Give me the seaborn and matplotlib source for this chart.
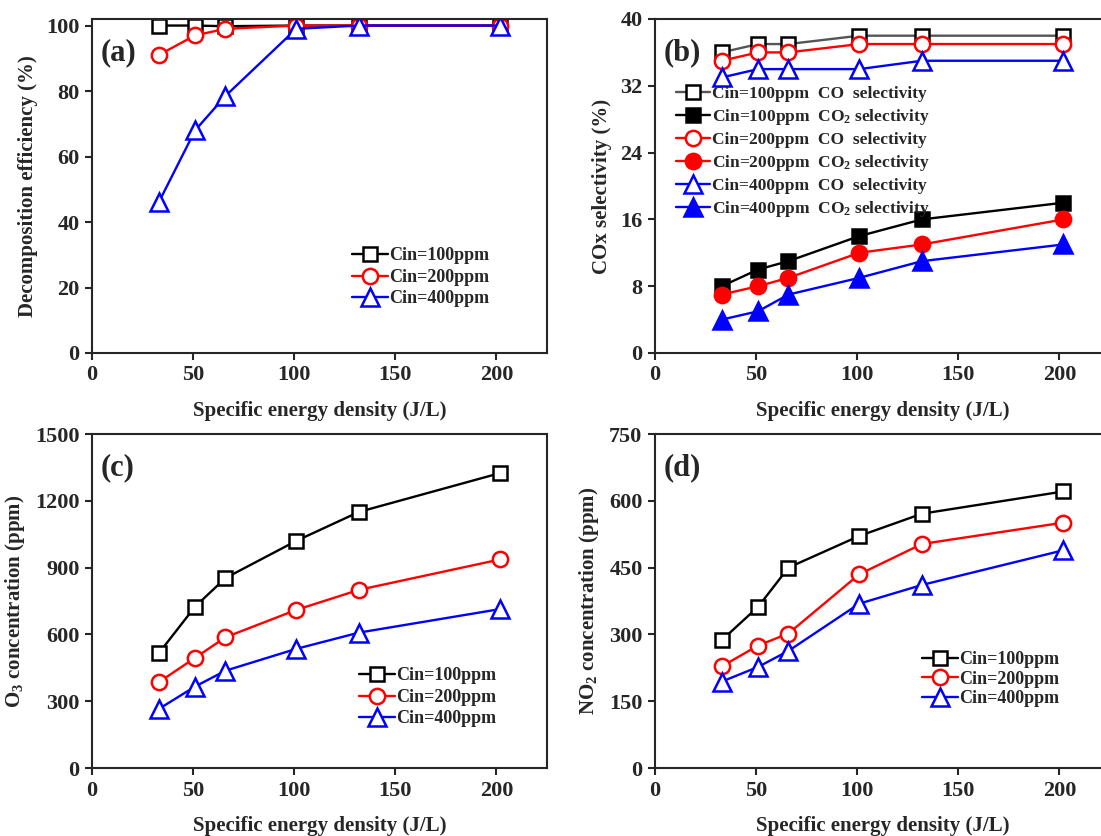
import numpy as np
import pandas as pd
import matplotlib
matplotlib.use("Agg")
import matplotlib.pyplot as plt
import seaborn as sns

# данные
sed = [33, 51, 66, 101, 132, 202]
cin_labels = ['Cin=100ppm', 'Cin=200ppm', 'Cin=400ppm']

eff_100 = [100, 100, 99.8, 100, 100, 100]
eff_200 = [91, 97, 99, 100, 100, 100]
eff_400 = [46, 68, 78.5, 99, 100, 100]

co_100 = [36, 37, 37, 38, 38, 38]
co_200 = [35, 36, 36, 37, 37, 37]
co_400 = [33, 34, 34, 34, 35, 35]
co2_100 = [8, 10, 11, 14, 16, 18]
co2_200 = [7, 8, 9, 12, 13, 16]
co2_400 = [4, 5, 7, 9, 11, 13]

o3_100 = [515, 725, 853, 1020, 1150, 1325]
o3_200 = [385, 495, 587, 710, 800, 937]
o3_400 = [265, 366, 437, 535, 608, 714]

no2_100 = [287, 362, 450, 521, 571, 621]
no2_200 = [228, 275, 302, 435, 503, 551]
no2_400 = [194, 227, 263, 369, 411, 489]

sns.set_style('ticks')
plt.rcParams['font.family'] = ['Liberation Serif', 'DejaVu Serif']
plt.rcParams['font.weight'] = 'bold'
plt.rcParams['axes.labelweight'] = 'bold'
plt.rcParams['mathtext.fontset'] = 'custom'
plt.rcParams['mathtext.rm'] = 'Liberation Serif:bold'
plt.rcParams['mathtext.bf'] = 'Liberation Serif:bold'
plt.rcParams['mathtext.it'] = 'Liberation Serif:bold'

COLORS = ['black', 'red', 'blue']
MARKERS = ['s', 'o', '^']
MSIZE = [10, 11, 13]


def draw(ax, y, color, marker, ms, label, filled=False, line_color=None):
    sns.lineplot(x=sed, y=y, ax=ax, color=line_color or color, lw=1.7,
                 marker=marker, markersize=ms, markeredgewidth=1.8,
                 markerfacecolor=color if filled else 'white',
                 markeredgecolor=color, label=label)


def style_axis(ax, ylim, yticks, ylabel, tag):
    ax.set_xlim(0, 225)
    ax.set_ylim(*ylim)
    ax.set_xticks([0, 50, 100, 150, 200])
    ax.set_yticks(yticks)
    ax.tick_params(direction='out', length=5, width=1.5, labelsize=16, pad=4)
    for lab in ax.get_xticklabels() + ax.get_yticklabels():
        lab.set_fontweight('bold')
    for sp in ax.spines.values():
        sp.set_visible(True)
        sp.set_linewidth(1.5)
    ax.set_xlabel('Specific energy density (J/L)', fontsize=15, labelpad=11)
    ax.set_ylabel(ylabel, fontsize=15, labelpad=6)
    ax.text(0.02, 0.9, tag, transform=ax.transAxes, fontsize=22,
            fontweight='bold', va='center', ha='left')


fig = plt.figure(figsize=(11.01, 8.36), dpi=100)
W = 455 / 1101
H = 334 / 836
ax_a = fig.add_axes([92 / 1101, 1 - 353 / 836, W, H])
ax_b = fig.add_axes([655 / 1101, 1 - 353 / 836, W, H])
ax_c = fig.add_axes([92 / 1101, 1 - 768 / 836, W, H])
ax_d = fig.add_axes([655 / 1101, 1 - 768 / 836, W, H])

# (a)
for y, c, m, ms, lab in zip([eff_100, eff_200, eff_400], COLORS, MARKERS, MSIZE, cin_labels):
    draw(ax_a, y, c, m, ms, lab)
style_axis(ax_a, (0, 102), [0, 20, 40, 60, 80, 100], 'Decomposition efficiency (%)', '(a)')
ax_a.legend(loc='lower right', bbox_to_anchor=(0.89, 0.115), frameon=False,
            fontsize=13, handlelength=2.0, handletextpad=0.1, labelspacing=0.25,
            borderaxespad=0)

# (b)
draw(ax_b, co_100, 'black', 's', 10, r'Cin=100ppm  CO  selectivity', line_color='#555555')
draw(ax_b, co2_100, 'black', 's', 10, r'Cin=100ppm  CO$_2$ selectivity', filled=True)
draw(ax_b, co_200, 'red', 'o', 11, r'Cin=200ppm  CO  selectivity')
draw(ax_b, co2_200, 'red', 'o', 11, r'Cin=200ppm  CO$_2$ selectivity', filled=True)
draw(ax_b, co_400, 'blue', '^', 13, r'Cin=400ppm  CO  selectivity')
draw(ax_b, co2_400, 'blue', '^', 13, r'Cin=400ppm  CO$_2$ selectivity', filled=True)
style_axis(ax_b, (0, 40), [0, 8, 16, 24, 32, 40], 'COx selectivity (%)', '(b)')
ax_b.legend(loc='upper left', bbox_to_anchor=(0.03, 0.82), frameon=False,
            fontsize=12.5, handlelength=2.0, handletextpad=0.1, labelspacing=0.28,
            borderaxespad=0)

# (c)
for y, c, m, ms, lab in zip([o3_100, o3_200, o3_400], COLORS, MARKERS, MSIZE, cin_labels):
    draw(ax_c, y, c, m, ms, lab)
style_axis(ax_c, (0, 1500), [0, 300, 600, 900, 1200, 1500], r'O$_3$ concentration (ppm)', '(c)')
ax_c.legend(loc='lower right', bbox_to_anchor=(0.905, 0.10), frameon=False,
            fontsize=13, handlelength=2.0, handletextpad=0.1, labelspacing=0.25,
            borderaxespad=0)

# (d)
for y, c, m, ms, lab in zip([no2_100, no2_200, no2_400], COLORS, MARKERS, MSIZE, cin_labels):
    draw(ax_d, y, c, m, ms, lab)
style_axis(ax_d, (0, 750), [0, 150, 300, 450, 600, 750], r'NO$_2$ concentration (ppm)', '(d)')
ax_d.legend(loc='lower right', bbox_to_anchor=(0.905, 0.16), frameon=False,
            fontsize=13, handlelength=2.0, handletextpad=0.1, labelspacing=0.15,
            borderaxespad=0)

fig.savefig('out.png', dpi=100)
